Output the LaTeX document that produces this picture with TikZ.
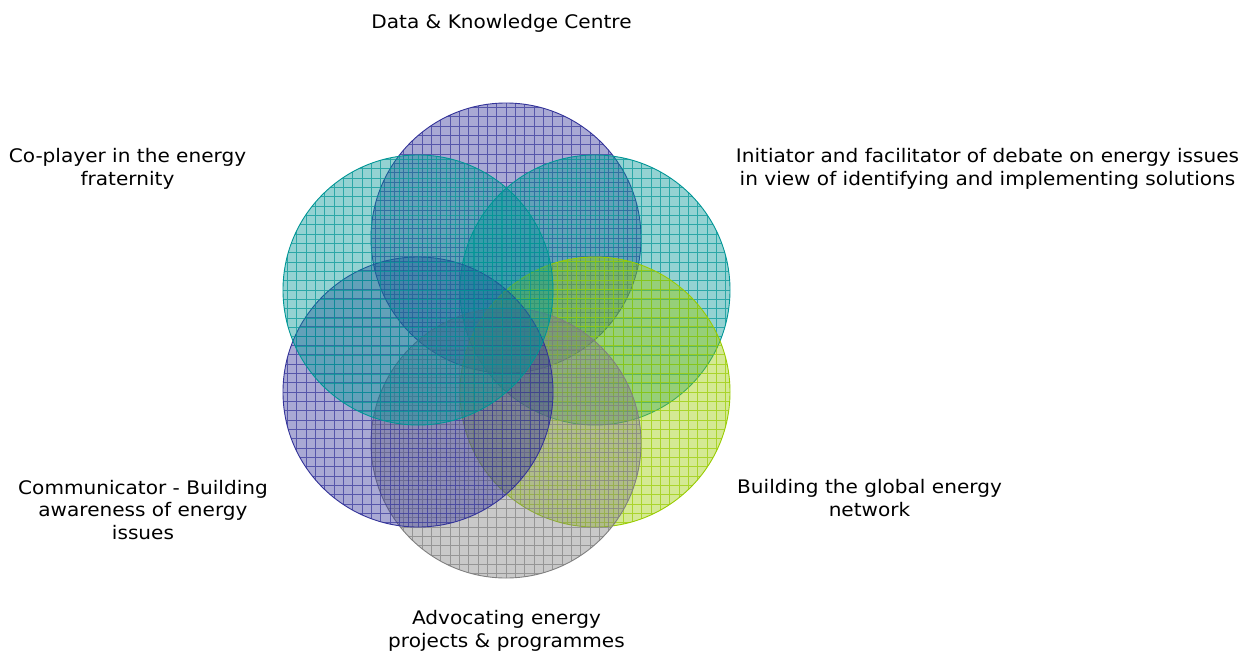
\documentclass[tikz,border=0pt]{standalone}
\usepackage{fontspec}
\setmainfont{DejaVu Sans}[FakeStretch=1.075]
\begin{document}
\definecolor{violetC}{RGB}{51,51,153}
\definecolor{tealC}{RGB}{0,150,150}
\definecolor{limeC}{RGB}{153,204,0}
\definecolor{greyC}{RGB}{128,128,128}
\begin{tikzpicture}[x=1pt,y=-1pt,
  ring/.style={circle, minimum size=270pt, inner sep=0pt, draw=#1, line width=0.9pt,
    fill=#1, fill opacity=0.42,
    path picture={\draw[#1, draw opacity=0.7, line width=0.9pt, step=9.33pt]
      (path picture bounding box.south west) grid (path picture bounding box.north east);}},
  lbl/.style={anchor=base, align=center, inner sep=0pt, text=black,
    font=\fontsize{18.67}{22.7}\selectfont}]
\useasboundingbox[fill=white] (0,0) rectangle (1257,654);
% six overlapping rings, clockwise from the top
\node[ring=violetC] (top) at (506,238) {};
\node[ring=tealC]   (ur)  at (595,290) {};
\node[ring=limeC]   (lr)  at (595,392) {};
\node[ring=greyC]   (bot) at (506,443) {};
\node[ring=violetC] (ll)  at (418,392) {};
\node[ring=tealC]   (ul)  at (418,290) {};
% labels (anchored at the baseline of their last line)
\node[lbl] (t1) at (501.5,28) {Data \& Knowledge Centre};
\node[lbl] (t2) at (127.5,185) {Co-player in the energy\\fraternity};
\node[lbl] (t3) at (987.5,185) {Initiator and facilitator of debate on energy issues\\in view of identifying and implementing solutions};
\node[lbl] (t5) at (869.5,516.5) {Building the global energy\\network};
\node[lbl] (t6) at (506.5,647.5) {Advocating energy\\projects \& programmes};
\begin{scope}
  \clip (0,470) rectangle (300,540.5);
  \node[lbl] (t4) at (143,539.5) {Communicator - Building\\awareness of energy\\issues};
\end{scope}
\end{tikzpicture}
\end{document}
